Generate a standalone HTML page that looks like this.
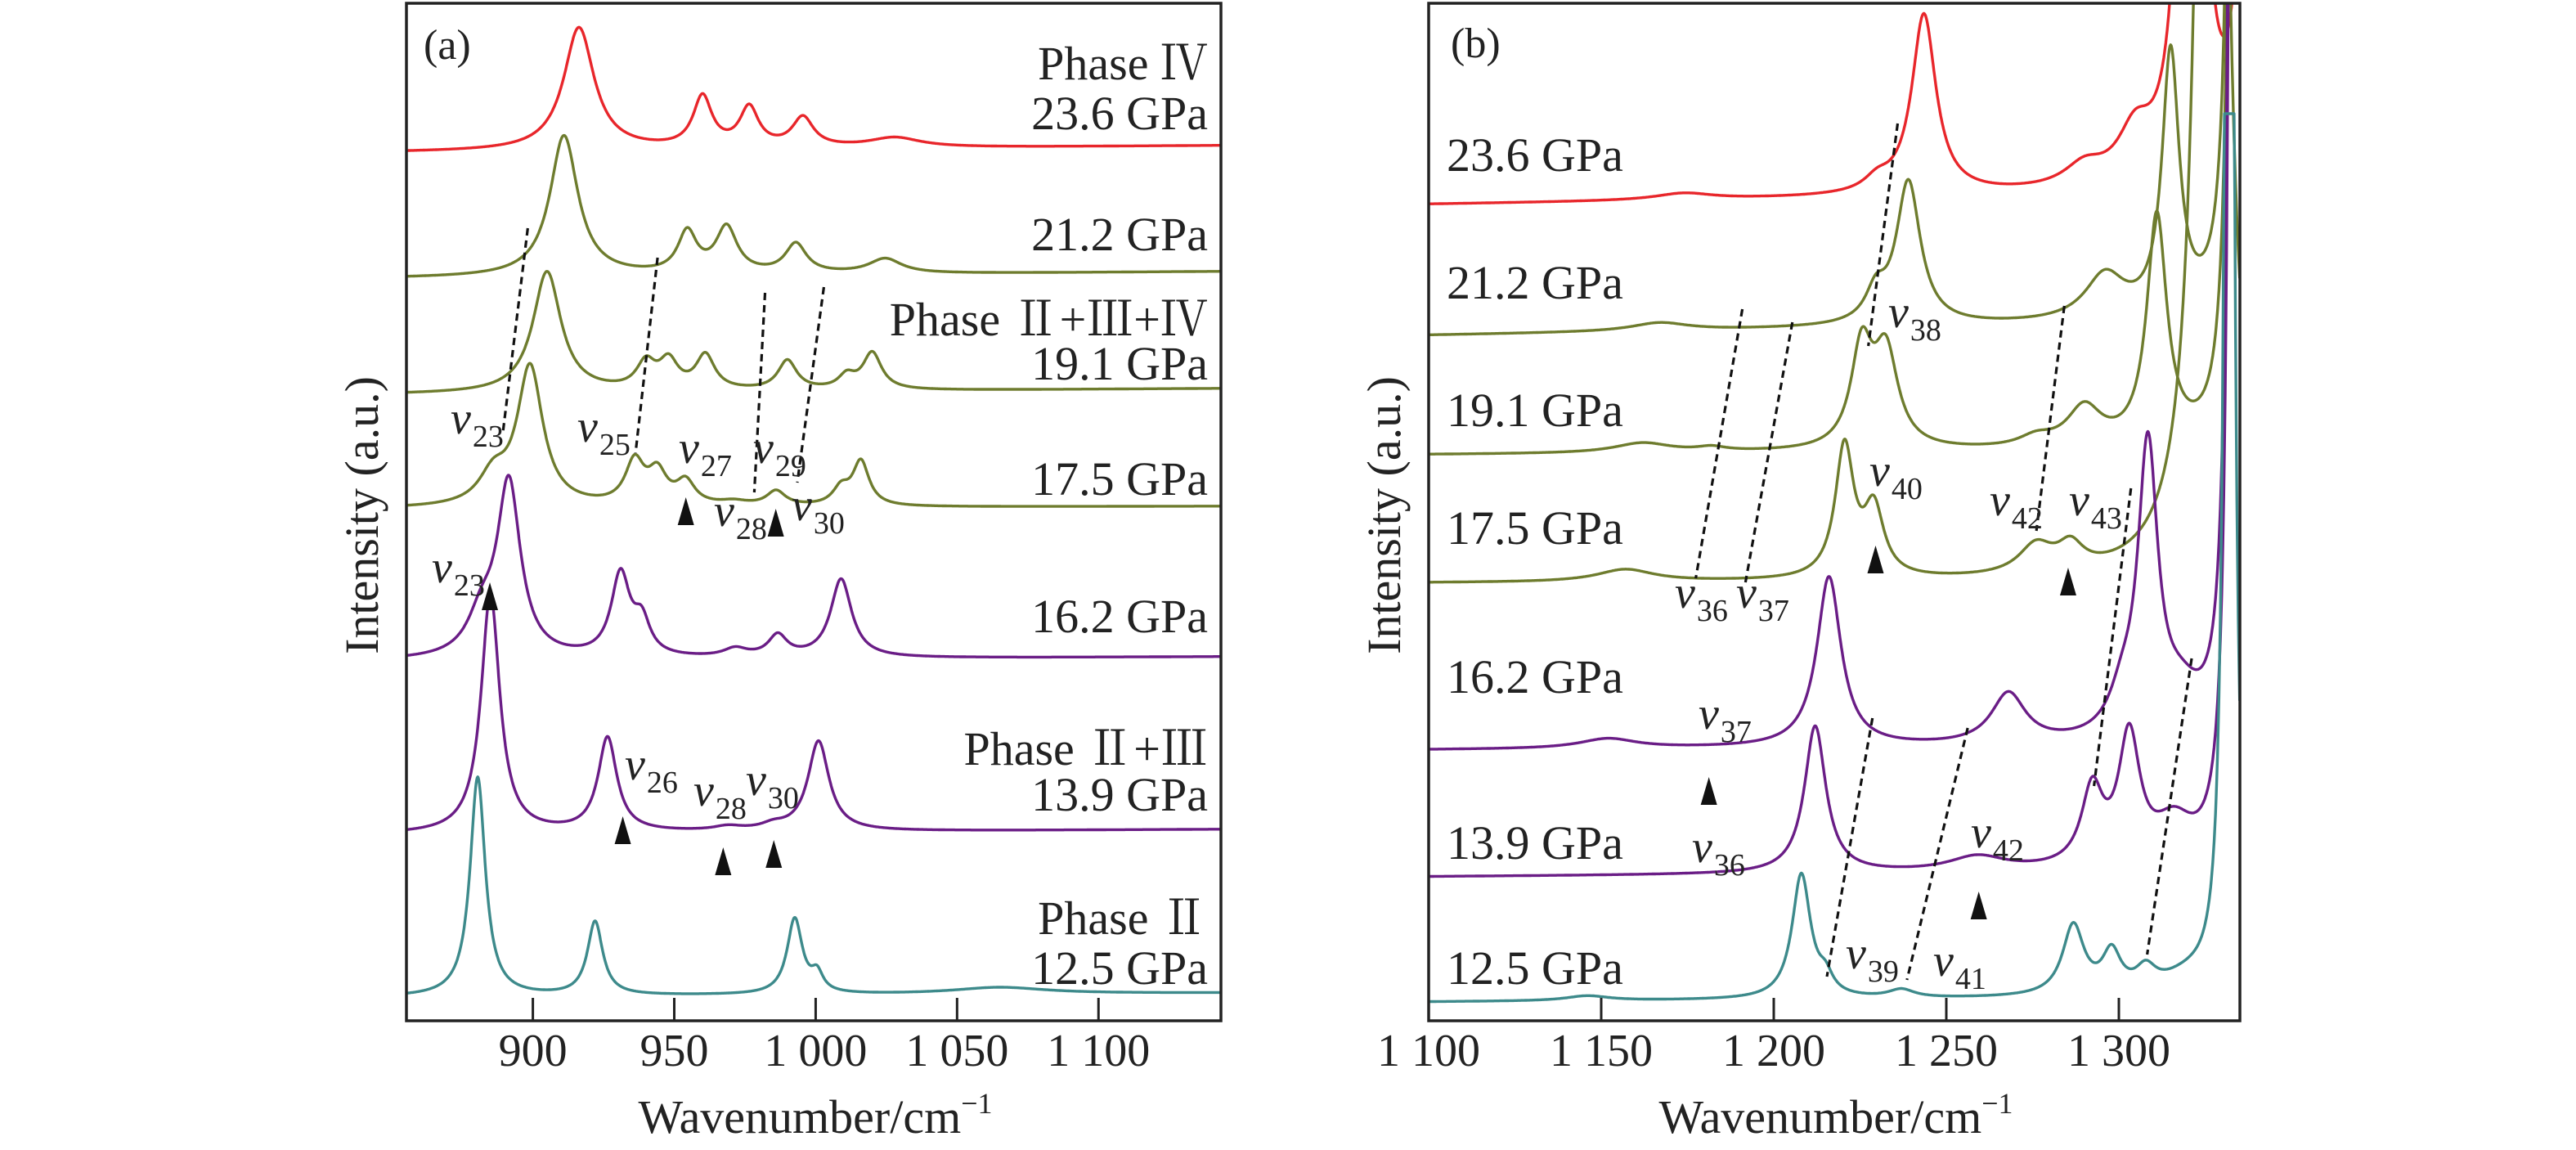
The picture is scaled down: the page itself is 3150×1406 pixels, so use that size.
<!DOCTYPE html>
<html><head><meta charset="utf-8"><style>
html,body{margin:0;padding:0;background:#fff;}
svg{display:block;}
text{font-family:"Liberation Serif","Noto Serif CJK SC",serif;fill:#222;}
</style></head>
<body>
<svg id="fig" width="3150" height="1406" viewBox="0 0 3150 1406" xmlns="http://www.w3.org/2000/svg">
<defs>
<clipPath id="clipA"><rect x="497" y="4" width="996" height="1244"/></clipPath>
<clipPath id="clipB"><rect x="1747" y="4" width="992" height="1244"/></clipPath>
</defs>
<g id="panelA"></g>
<g id="panelB"></g>
</svg>
<script>
// ---------- data ----------
const pressures = ['23.6','21.2','19.1','17.5','16.2','13.9','12.5'];
// Panel (a) baselines (a.u.) at left and right edge
const A_baseL = [1062, 908, 766, 626, 440, 228, 29];
const A_baseR = [1070, 916, 773, 629, 445, 234, 34];
const A_centers = [
  [916.3, 960, 976.5, 995.5, 1028],
  [911, 954.6, 968.5, 993, 1024.6],
  [905, 940, 948, 961, 990, 1011, 1020],
  [899, 886, 936, 944, 954, 971, 986, 1009, 1016],
  [891.5, 882, 931, 938.5, 971.6, 986.6, 1009],
  [885, 926.4, 969, 985, 1001],
  [880.5, 922, 992.6, 1000.5, 1065]
];
const A_heights = [
  [150, 62, 48, 36, 12],
  [172, 50, 56, 36, 18],
  [148, 32, 34, 42, 36, 16, 45],
  [170, 35, 52, 38, 28, 5, 18, 20, 54],
  [212, 45, 100, 40, 10, 26, 96],
  [292, 115, 5, 6, 110],
  [268, 90, 92, 22, 8]
];
const A_fwhm = [
  [13, 8, 8, 9, 22],
  [12, 8, 9, 9, 14],
  [12, 8, 8, 8, 8, 7, 8],
  [11, 12, 8, 8, 8, 12, 8, 7, 7],
  [10, 12, 8, 7, 10, 8, 9],
  [8, 8, 12, 10, 9],
  [6.5, 6.5, 6.5, 5, 40]
];
// Panel (b)
const B_baseL = [998, 838, 692, 535, 331, 176, 23];
const B_baseR = [1012, 854, 697, 537, 335, 182, 28];
const B_centers = [
  [1174, 1230, 1243.5, 1290, 1304.7, 1321, 1339],
  [1167, 1229.6, 1239, 1296, 1315, 1334],
  [1162, 1182, 1225.5, 1232.5, 1276, 1290, 1311, 1334],
  [1157, 1220.5, 1229, 1276, 1286, 1327],
  [1152, 1216, 1268, 1301, 1308.4, 1318, 1333.5],
  [1212, 1259, 1292.3, 1303, 1316, 1333.5],
  [1146, 1208, 1215, 1237, 1286.8, 1297.9, 1307.8, 1320, 1332]
];
const B_heights = [
  [8, 15, 220, 25, 58, 1500, 3000],
  [10, 35, 175, 55, 320, 4000],
  [12, 5, 120, 115, 12, 48, 280, 4000],
  [15, 160, 82, 35, 30, 3000],
  [12, 208, 62, 40, 350, 45, 4000],
  [180, 18, 92, 155, 50, 4000],
  [6, 152, 20, 10, 85, 48, 25, 20, 3000]
];
const B_fwhm = [
  [20, 9, 8.5, 14, 12, 5, 3],
  [20, 7, 8.5, 14, 6, 2.2],
  [20, 10, 7.5, 8.5, 12, 12, 7, 2.2],
  [20, 6.5, 7, 12, 9, 6],
  [20, 8.5, 12, 9, 7, 14, 2.2],
  [7.5, 20, 7.5, 7.5, 14, 2.2],
  [15, 6.5, 5, 9, 7.5, 6.5, 7, 20, 2.2]
];
const B_saturation = [Infinity, Infinity, Infinity, Infinity, Infinity, Infinity, 1109];
const ticksA = [900, 950, 1000, 1050, 1100];
const tickLabelsA = ['900', '950', '1 000', '1 050', '1 100'];
const ticksB = [1100, 1150, 1200, 1250, 1300];
const tickLabelsB = ['1 100', '1 150', '1 200', '1 250', '1 300'];
// annotations: dashed guide lines [wn1, v1, wn2, v2]
const A_guides = [[898.2, 969, 889.3, 716], [944.1, 933, 936.3, 694], [982.1, 890, 978.3, 646], [1002.9, 897, 993.5, 658]];
const B_guides = [[1190.9, 870, 1177.4, 541], [1205.4, 854, 1191.8, 536], [1235.9, 1097, 1227.4, 825], [1284.2, 874, 1276.1, 599], [1303.5, 651, 1292.8, 287], [1321.1, 443, 1308.2, 81], [1228.6, 370, 1215.4, 54], [1256.2, 358, 1238.6, 50]];
// triangle markers [wn, value of apex]
const A_markers = [[954.1, 640], [985.9, 626], [884.8, 536], [931.8, 250], [967.3, 212], [985.2, 221]];
const B_markers = [[1229.5, 581], [1285.3, 554], [1181.2, 298], [1259.4, 158]];

// ---------- styles ----------
const colors = ['#e8262b', '#6e7c2e', '#6e7c2e', '#6e7c2e', '#6a1d86', '#6a1d86', '#3d8a8b'];
const NS = 'http://www.w3.org/2000/svg';
const Y0 = 1248;
function yv(v){ return Y0 - v; }
function xA(w){ return 497 + (w - 855.3) * (996 / (1143.3 - 855.3)); }
function xB(w){ return 1747 + (w - 1100) * 4.22; }
function mk(tag, attrs, parent){
  const e = document.createElementNS(NS, tag);
  for (const k in attrs) e.setAttribute(k, attrs[k]);
  parent.appendChild(e);
  return e;
}
function spectrumValue(w, i, c, h, f, bl, br, lo, hi){
  let v = bl[i] + (br[i] - bl[i]) * (w - lo) / (hi - lo);
  for (let k = 0; k < c[i].length; k++){
    const g = f[i][k] / 2;
    const d = w - c[i][k];
    v += h[i][k] * g * g / (d * d + g * g);
  }
  return v;
}
function drawPanel(g, xf, lo, hi, c, h, f, bl, br, sat, clipId, prefix){
  const sg = mk('g', {'clip-path': 'url(#' + clipId + ')'}, g);
  
  
  for (let i = 0; i < pressures.length; i++){
    let d = '';
    for (let w = lo; w <= hi + 0.001; w += 0.2){
      let v = spectrumValue(w, i, c, h, f, bl, br, lo, hi);
      if (sat && v > sat[i]) v = sat[i];
      if (v > 1400) v = 1400;
      d += (d ? 'L' : 'M') + xf(w).toFixed(1) + ',' + yv(v).toFixed(1);
    }
    const p = mk('path', {d: d, fill: 'none', stroke: colors[i], 'stroke-width': 3.4, 'stroke-linejoin': 'round'}, sg);
    
    
  }
}
function drawAxes(g, x0, x1, xf, ticks, labels, prefix){
  const fr = mk('rect', {x: x0, y: 4, width: x1 - x0, height: Y0 - 4, fill: 'none', stroke: '#222', 'stroke-width': 3.5}, g);
  
  
  for (let k = 0; k < ticks.length; k++){
    const x = xf(ticks[k]);
    const t = mk('line', {x1: x, x2: x, y1: Y0, y2: Y0 - 28, stroke: '#222', 'stroke-width': 3}, g);
    
    
    const tl = mk('text', {x: x, y: 1303, 'font-size': 56, 'text-anchor': 'middle'}, g);
    tl.textContent = labels[k];
    
    
  }
}
function drawGuides(g, xf, arr, prefix){
  for (const a of arr){
    const l = mk('line', {x1: xf(a[0]), y1: yv(a[1]), x2: xf(a[2]), y2: yv(a[3]), stroke: '#111', 'stroke-width': 3.2, 'stroke-dasharray': '9 6'}, g);
    
    
  }
}
function drawMarkers(g, xf, arr, prefix){
  for (const m of arr){
    const x = xf(m[0]), y = yv(m[1]);
    const p = mk('polygon', {points: (x) + ',' + y + ' ' + (x - 10) + ',' + (y + 34) + ' ' + (x + 10) + ',' + (y + 34), fill: '#111'}, g);
    
    
  }
}
function label(g, x, y, txt, anchor, size, name){
  const t = mk('text', {x: x, y: y, 'font-size': size || 56, 'text-anchor': anchor || 'start'}, g);
  t.textContent = txt;
  
  
  return t;
}
function nu(g, x, y, sub, name){
  const t = mk('text', {x: x, y: y, 'font-size': 56}, g);
  const a = mk('tspan', {'font-style': 'italic'}, t);
  a.textContent = 'ν';
  const b = mk('tspan', {'font-size': 38, dy: 16, dx: 2}, t);
  b.textContent = sub;
  
  
}
function axisTitles(g, cx, yx, prefix){
  const t = mk('text', {x: cx, y: 1385, 'font-size': 58, 'text-anchor': 'middle'}, g);
  t.appendChild(document.createTextNode('Wavenumber/cm'));
  const s = mk('tspan', {'font-size': 36, dy: -24}, t);
  s.textContent = '−1';
  
  
  const y = mk('text', {x: yx, y: 630, 'font-size': 58, 'text-anchor': 'middle', transform: 'rotate(-90 ' + yx + ' 630)'}, g);
  y.textContent = 'Intensity (a.u.)';
  
  
}

// ---------- panel a ----------
const gA = document.getElementById('panelA');
drawPanel(gA, xA, 855.3, 1143.3, A_centers, A_heights, A_fwhm, A_baseL, A_baseR, null, 'clipA', 'a');
drawAxes(gA, 497, 1493, xA, ticksA, tickLabelsA, 'a');
drawGuides(gA, xA, A_guides, 'a');
drawMarkers(gA, xA, A_markers, 'a');
axisTitles(gA, 997, 462, 'a');
label(gA, 518, 72, '(a)', 'start', 52, 'panel-a-tag');
const RA = 1477;
label(gA, RA, 97, 'Phase Ⅳ', 'end', 58, 'phase-label-iv');
label(gA, RA, 158, '23.6 GPa', 'end', 58, 'pressure-label-23-6');
label(gA, RA, 306, '21.2 GPa', 'end', 58, 'pressure-label-21-2');
label(gA, RA, 410, 'Phase Ⅱ+Ⅲ+Ⅳ', 'end', 58, 'phase-label-ii-iii-iv');
label(gA, RA, 464, '19.1 GPa', 'end', 58, 'pressure-label-19-1');
label(gA, RA, 605, '17.5 GPa', 'end', 58, 'pressure-label-17-5');
label(gA, RA, 773, '16.2 GPa', 'end', 58, 'pressure-label-16-2');
label(gA, RA, 935, 'Phase Ⅱ+Ⅲ', 'end', 58, 'phase-label-ii-iii');
label(gA, RA, 991, '13.9 GPa', 'end', 58, 'pressure-label-13-9');
label(gA, RA, 1142, 'Phase Ⅱ', 'end', 58, 'phase-label-ii');
label(gA, RA, 1203, '12.5 GPa', 'end', 58, 'pressure-label-12-5');
nu(gA, 551, 530, '23', 'mode-label-v23');
nu(gA, 706, 540, '25', 'mode-label-v25');
nu(gA, 830, 566, '27', 'mode-label-v27');
nu(gA, 921, 566, '29', 'mode-label-v29');
nu(gA, 873, 643, '28', 'mode-label-v28');
nu(gA, 968, 636, '30', 'mode-label-v30');
nu(gA, 528, 712, '23', 'mode-label-v23-low');
nu(gA, 764, 953, '26', 'mode-label-v26');
nu(gA, 848, 985, '28', 'mode-label-v28-low');
nu(gA, 912, 972, '30', 'mode-label-v30-low');

// ---------- panel b ----------
const gB = document.getElementById('panelB');
drawPanel(gB, xB, 1100, 1335, B_centers, B_heights, B_fwhm, B_baseL, B_baseR, B_saturation, 'clipB', 'b');
drawAxes(gB, 1747, 2739, xB, ticksB, tickLabelsB, 'b');
drawGuides(gB, xB, B_guides, 'b');
drawMarkers(gB, xB, B_markers, 'b');
axisTitles(gB, 2245, 1712, 'b');
label(gB, 1774, 70, '(b)', 'start', 52, 'panel-b-tag');
const LB = 1769;
label(gB, LB, 209, '23.6 GPa', 'start', 58, 'b-pressure-label-23-6');
label(gB, LB, 365, '21.2 GPa', 'start', 58, 'b-pressure-label-21-2');
label(gB, LB, 521, '19.1 GPa', 'start', 58, 'b-pressure-label-19-1');
label(gB, LB, 665, '17.5 GPa', 'start', 58, 'b-pressure-label-17-5');
label(gB, LB, 847, '16.2 GPa', 'start', 58, 'b-pressure-label-16-2');
label(gB, LB, 1050, '13.9 GPa', 'start', 58, 'b-pressure-label-13-9');
label(gB, LB, 1203, '12.5 GPa', 'start', 58, 'b-pressure-label-12-5');
nu(gB, 2309, 400, '38', 'mode-label-v38');
nu(gB, 2286, 594, '40', 'mode-label-v40');
nu(gB, 2433, 630, '42', 'mode-label-v42');
nu(gB, 2530, 630, '43', 'mode-label-v43');
nu(gB, 2048, 743, '36', 'mode-label-v36');
nu(gB, 2123, 743, '37', 'mode-label-v37');
nu(gB, 2077, 891, '37', 'mode-label-v37-low');
nu(gB, 2069, 1054, '36', 'mode-label-v36-low');
nu(gB, 2410, 1036, '42', 'mode-label-v42-low');
nu(gB, 2257, 1184, '39', 'mode-label-v39');
nu(gB, 2364, 1193, '41', 'mode-label-v41');
</script>
</body></html>
